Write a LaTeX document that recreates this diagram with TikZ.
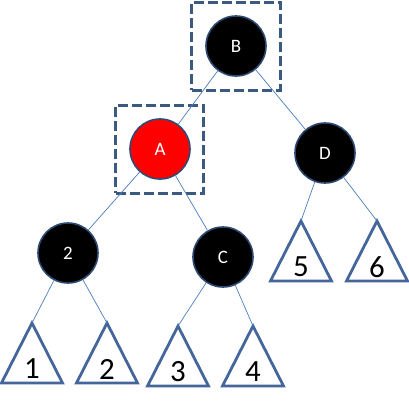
\documentclass[tikz,border=0pt]{standalone}
\usepackage{fontspec}
\setmainfont{Carlito}
\usepackage{xcolor}
\usepackage{tikz}
\usetikzlibrary{shapes,positioning,calc}
\definecolor{ringblue}{HTML}{2E4A72}
\definecolor{boxblue}{HTML}{3A5A82}
\definecolor{treeblue}{HTML}{44669A}
\definecolor{linkblue}{HTML}{4A7EBB}
\tikzset{
rbnode/.style = {draw=ringblue, line width=1.6bp, fill=black, circle, minimum size=60bp, inner sep=0pt, text=white, font=\fontsize{19}{19}\selectfont},
rednode/.style = {rbnode, fill=red},
focusbox/.style = {draw=boxblue, line width=3bp, dash pattern=on 10bp off 4bp, rectangle, minimum size=88bp, inner sep=0pt},
subtree/.style = {draw=treeblue, line width=2.8bp, line join=miter},
link/.style = {draw=linkblue, line width=0.7bp},
digit/.style = {inner sep=0pt, font=\fontsize{31}{31}\selectfont},
tip/.style = {coordinate}
}

\begin{document}
\begin{tikzpicture}[auto, x=1bp, y=-1bp]
    \useasboundingbox (0,0) rectangle (409,411);
    \node [rbnode] (B) at (236,46) {B};
    \node [rednode, below of=B, node distance=103bp, xshift=-76bp] (A) {A};
    \node [rbnode, below of=B, node distance=107bp, xshift=89bp] (D) {D};
    \node [rbnode, below of=A, node distance=104bp, xshift=-92bp] (n2) {2};
    \node [rbnode, below of=A, node distance=108bp, xshift=63bp] (C) {C};
    \node [focusbox] (Bbox) at (B) {};
    \node [focusbox] (Abox) at (A) {};
    % subtree tips
    \node [tip, below of=n2, node distance=70bp, xshift=-36bp] (t1) {};
    \node [tip, below of=n2, node distance=70bp, xshift=39bp] (t2) {};
    \node [tip, below of=C, node distance=69bp, xshift=-45bp] (t3) {};
    \node [tip, below of=C, node distance=69bp, xshift=30bp] (t4) {};
    \node [tip, below of=D, node distance=68bp, xshift=-24bp] (t5) {};
    \node [tip, below of=D, node distance=68bp, xshift=52bp] (t6) {};
    \foreach \t in {t1,t2,t3,t4,t5,t6}
        \draw [subtree] (\t) -- ++(-30.5bp,-60bp) -- ++(61bp,0bp) -- cycle;
    \node [digit, below of=t1, node distance=46bp] (l1) {1};
    \node [digit, below of=t2, node distance=46bp] (l2) {2};
    \node [digit, below of=t3, node distance=46bp] (l3) {3};
    \node [digit, below of=t4, node distance=46bp] (l4) {4};
    \node [digit, below of=t5, node distance=46bp] (l5) {5};
    \node [digit, below of=t6, node distance=46bp] (l6) {6};
    \draw [link] (B) -- (A);
    \draw [link] (B) -- (D);
    \draw [link] (A) -- (n2);
    \draw [link] (A) -- (C);
    \draw [link] (n2) -- (t1);
    \draw [link] (n2) -- (t2);
    \draw [link] (C) -- (t3);
    \draw [link] (C) -- (t4);
    \draw [link] (D) -- (t5);
    \draw [link] (D) -- (t6);
\end{tikzpicture}
\end{document}
